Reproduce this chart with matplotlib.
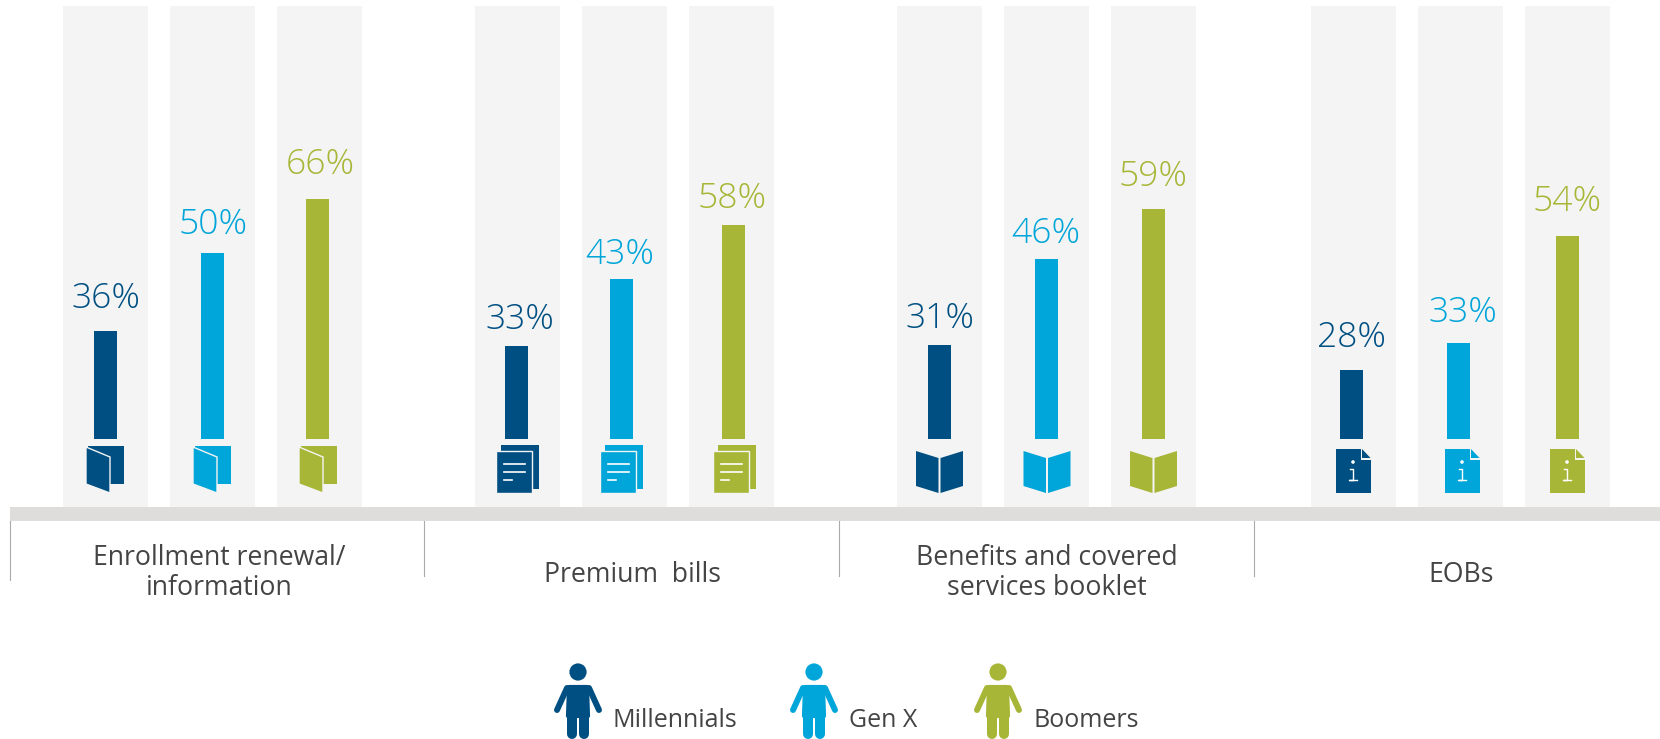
"""Paper vs. digital preference by generation, four document types."""
import matplotlib
matplotlib.use("Agg")
import matplotlib.pyplot as plt
from matplotlib.patches import Circle, Polygon, Rectangle

plt.rcParams["font.family"] = ["Open Sans", "DejaVu Sans"]

CATEGORIES = ["Enrollment renewal/\ninformation", "Premium  bills",
              "Benefits and covered\nservices booklet", "EOBs"]
GENERATIONS = ["Millennials", "Gen X", "Boomers"]

# printed percentages
MILLENNIALS = [36, 33, 31, 28]
GEN_X = [50, 43, 46, 33]
BOOMERS = [66, 58, 59, 54]

# the bars in the original are not to scale with the printed numbers,
# so the drawn lengths are read separately (pixels)
MILLENNIALS_LEN = [108, 93, 94, 69]
GEN_X_LEN = [186, 160, 180, 96]
BOOMERS_LEN = [240, 214, 230, 203]

COLORS = ["#004F82", "#00A5D9", "#A8B637"]
PANEL = "#F4F4F4"
BAND = "#DEDDDB"
TEXT = "#444444"
W, H = 1660, 739
BAR_BOTTOM = 439
PANEL_TOP = 6
PANEL_BOTTOM = 507

# left edge of the grey panel behind each bar, one row per category
PANEL_X = [[63, 170, 277], [475, 582, 689], [897, 1004, 1111], [1311, 1418, 1525]]
PANEL_W = 85
BAR_W = 23
# bars are not quite centred in their panels
BAR_X = [[105.5, 212.5, 317.5], [516.5, 621.5, 733.5],
         [939.5, 1046.5, 1153.5], [1351.5, 1458.5, 1567.5]]
LABEL_X = [[106, 213, 320], [520, 620, 732], [939.5, 1046, 1153], [1351, 1463, 1567]]
LABEL_GAP = [[23, 19, 25], [17, 15, 17], [17, 16, 23], [23, 21, 25]]
ICON_X = [[105, 212, 318], [515, 619, 732], [939.5, 1047, 1153.5], [1353, 1462, 1567]]
CAT_X = [219, 632, 1047, 1461]
CAT_Y = [573, 575, 573, 575]
DIVIDERS = [(10, 580), (424, 576), (839, 576), (1253.5, 576)]


def icon_folder(ax, cx, c):
    ax.add_patch(Rectangle((cx - 17, 446), 36, 38, color=c, lw=0))
    ax.add_patch(Polygon([(cx - 19, 447), (cx + 5, 457), (cx + 5, 493), (cx - 19, 484)],
                         fc=c, ec="#F4F4F4", lw=1))


def icon_pages(ax, cx, c):
    ax.add_patch(Rectangle((cx - 14, 445), 38, 44, color=c, lw=0))
    ax.add_patch(Rectangle((cx - 19, 451), 36, 42, fc=c, ec="#F4F4F4", lw=1))
    for dy, ln in ((464, 21), (472, 21), (480, 8)):
        ax.plot([cx - 11, cx - 11 + ln], [dy, dy], color="white", lw=1.2)


def icon_book(ax, cx, c):
    ax.add_patch(Polygon([(cx - 23.5, 451), (cx - 1, 458), (cx - 1, 493), (cx - 23.5, 486)],
                         fc=c, lw=0))
    ax.add_patch(Polygon([(cx + 1, 458), (cx + 23.5, 451), (cx + 23.5, 486), (cx + 1, 493)],
                         fc=c, lw=0))


def icon_info(ax, cx, c):
    ax.add_patch(Polygon([(cx - 17.5, 449), (cx + 7.5, 449), (cx + 7.5, 459.5),
                          (cx + 17.5, 459.5), (cx + 17.5, 493), (cx - 17.5, 493)],
                         fc=c, lw=0))
    ax.add_patch(Polygon([(cx + 9, 449), (cx + 17.5, 458), (cx + 9, 458)], fc=c, lw=0))
    ax.add_patch(Circle((cx, 462), 1.8, color="white", lw=0))
    ax.plot([cx - 3, cx, cx, cx - 4, cx + 4], [469, 469, 480, 480, 480],
            color="white", lw=1)


def person(ax, cx, c):
    ax.add_patch(Circle((cx, 672), 8.6, color=c, lw=0))
    ax.add_patch(Polygon([(cx - 9, 687), (cx + 9, 687), (cx + 10, 716), (cx - 10, 716)],
                         fc=c, ec=c, lw=3, joinstyle="round"))
    for side in (-1, 1):
        ax.plot([cx + side * 11, cx + side * 21], [688, 710], color=c, lw=4.3,
                solid_capstyle="round")
        ax.plot([cx + side * 6, cx + side * 6], [715, 734], color=c, lw=7.2,
                solid_capstyle="round")


fig = plt.figure(figsize=(W / 100, H / 100), dpi=100)
ax = fig.add_axes([0, 0, 1, 1])
ax.set_xlim(0, W)
ax.set_ylim(H, 0)
ax.axis("off")

ICONS = [icon_folder, icon_pages, icon_book, icon_info]
values = [MILLENNIALS, GEN_X, BOOMERS]
lengths = [MILLENNIALS_LEN, GEN_X_LEN, BOOMERS_LEN]

for i in range(len(CATEGORIES)):
    for j in range(len(GENERATIONS)):
        ax.add_patch(Rectangle((PANEL_X[i][j], PANEL_TOP), PANEL_W, PANEL_BOTTOM - PANEL_TOP,
                               color=PANEL, lw=0, zorder=0))
        ax.bar(BAR_X[i][j], -lengths[j][i], BAR_W, bottom=BAR_BOTTOM, color=COLORS[j],
               lw=0, zorder=2)
        top = BAR_BOTTOM - lengths[j][i]
        ax.text(LABEL_X[i][j], top - LABEL_GAP[i][j], f"{values[j][i]}%", color=COLORS[j],
                fontsize=25.5, ha="center", va="baseline", fontweight="light")
        ICONS[i](ax, ICON_X[i][j], COLORS[j])

ax.add_patch(Rectangle((10, PANEL_BOTTOM), W - 10, 14, color=BAND, lw=0))
for x, y2 in DIVIDERS:
    ax.plot([x, x], [521, y2], color="#AAAAAA", lw=0.8)

for x, y, label in zip(CAT_X, CAT_Y, CATEGORIES):
    ax.text(x, y, label, color=TEXT, fontsize=19.2, ha="center", va="center",
            linespacing=1.08)

for cx, tx, label, c in zip([578, 814, 998], [612, 849, 1033], GENERATIONS, COLORS):
    person(ax, cx, c)
    ax.text(tx, 727, label, color=TEXT, fontsize=18, va="baseline")

fig.savefig("out.png", dpi=100)
